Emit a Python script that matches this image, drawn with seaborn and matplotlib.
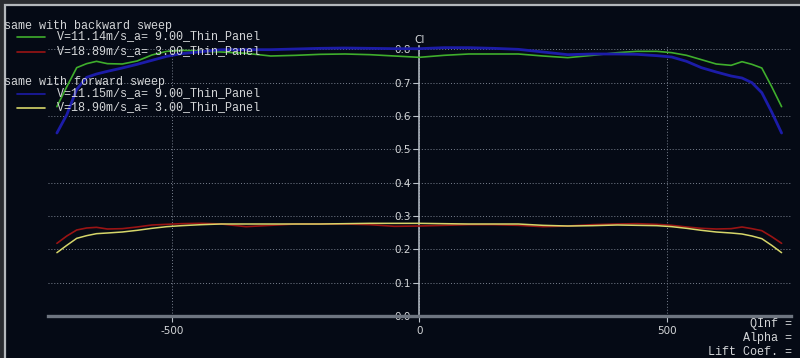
import numpy as np
import pandas as pd
import matplotlib
matplotlib.use('Agg')
import matplotlib.pyplot as plt
from matplotlib.lines import Line2D
from matplotlib.patches import Rectangle
import seaborn as sns


# spanwise stations (mm) and local lift coefficient for the four runs
span = [-732, -712, -692, -672, -652, -630, -600, -570, -540, -510, -480, -440, -400,
        -350, -300, -250, -200, -150, -100, -50, 0, 50, 100, 150, 200, 250, 300, 350,
        400, 440, 480, 510, 540, 570, 600, 630, 652, 672, 692, 712, 732]

cl_back_a9 = [0.628, 0.688, 0.745, 0.757, 0.764, 0.757, 0.756, 0.765, 0.783, 0.794, 0.797,
              0.795, 0.792, 0.788, 0.780, 0.782, 0.785, 0.786, 0.784, 0.780, 0.776, 0.782,
              0.786, 0.786, 0.786, 0.780, 0.775, 0.782, 0.790, 0.794, 0.794, 0.790, 0.782,
              0.769, 0.756, 0.752, 0.763, 0.755, 0.744, 0.688, 0.628]
cl_back_a3 = [0.218, 0.240, 0.258, 0.264, 0.266, 0.261, 0.262, 0.267, 0.273, 0.275, 0.277,
              0.278, 0.276, 0.268, 0.272, 0.276, 0.276, 0.276, 0.274, 0.269, 0.270, 0.272,
              0.274, 0.274, 0.272, 0.268, 0.270, 0.274, 0.276, 0.277, 0.275, 0.272, 0.267,
              0.263, 0.261, 0.262, 0.267, 0.262, 0.256, 0.238, 0.218]
cl_fwd_a9 = [0.549, 0.604, 0.680, 0.716, 0.726, 0.734, 0.744, 0.755, 0.767, 0.779, 0.787,
             0.793, 0.799, 0.799, 0.799, 0.801, 0.803, 0.804, 0.803, 0.802, 0.802, 0.805,
             0.805, 0.803, 0.800, 0.792, 0.784, 0.786, 0.786, 0.785, 0.781, 0.777, 0.764,
             0.745, 0.732, 0.720, 0.714, 0.700, 0.670, 0.612, 0.549]
cl_fwd_a3 = [0.190, 0.212, 0.233, 0.241, 0.247, 0.249, 0.252, 0.257, 0.263, 0.268, 0.271,
             0.274, 0.276, 0.276, 0.276, 0.276, 0.276, 0.277, 0.278, 0.278, 0.278, 0.277,
             0.276, 0.276, 0.276, 0.272, 0.270, 0.271, 0.273, 0.272, 0.271, 0.268, 0.263,
             0.257, 0.252, 0.249, 0.246, 0.240, 0.232, 0.212, 0.190]

labels = ['V=11.14m/s_a= 9.00_Thin_Panel', 'V=18.89m/s_a= 3.00_Thin_Panel',
          'V=11.15m/s_a= 9.00_Thin_Panel', 'V=18.90m/s_a= 3.00_Thin_Panel']
colors = ['#3fae2c', '#9a1414', '#1c1ca8', '#d6d66a']
widths = [1.2, 1.2, 2.0, 1.1]

bg = '#050a15'
txt = '#d4d6d8'

sns.set_theme(style='dark')

# build long table for seaborn
frames = []
for lab, vals in zip(labels, [cl_back_a9, cl_back_a3, cl_fwd_a9, cl_fwd_a3]):
    frames.append(pd.DataFrame({'span': span, 'cl': vals, 'run': lab}))
df = pd.concat(frames, ignore_index=True)

fig = plt.figure(figsize=(8, 3.58), dpi=100)
fig.patch.set_facecolor('#2a2c30')
# inner panel with light frame line on top/left (behind the axes)
fig.add_artist(Rectangle((4.5 / 800, -0.1), 1.2, (358 - 4.5) / 358 + 0.1,
                         transform=fig.transFigure, facecolor=bg,
                         edgecolor='#b4b8bc', linewidth=1.6, zorder=-10))

ax = fig.add_axes([48 / 800, 42 / 358, 743 / 800, 270 / 358])
ax.set_facecolor('none')

for lab, c, w in zip(labels, colors, widths):
    sns.lineplot(data=df[df.run == lab], x='span', y='cl', color=c, linewidth=w,
                 sort=False, legend=False, ax=ax, zorder=3)

ax.set_xlim(-750, 751)
ax.set_ylim(0, 0.81)
ax.set_xticks([-500, 0, 500])
ax.set_xticklabels(['-500', '0', '500'])
ax.set_yticks([0.0, 0.1, 0.2, 0.3, 0.4, 0.5, 0.6, 0.7, 0.8])
ax.set_yticklabels(['0.0', '0.1', '0.2', '0.3', '0.4', '0.5', '0.6', '0.7', '0.8'])
ax.set_xlabel('')
ax.set_ylabel('')

ax.grid(True, color='#7a8290', linestyle=(0, (1, 2)), linewidth=0.7)
ax.set_axisbelow(True)

for s in ['top', 'right']:
    ax.spines[s].set_visible(False)
ax.spines['left'].set_position(('data', 0))
ax.spines['left'].set_color('#b9c0c8')
ax.spines['left'].set_linewidth(1.1)
ax.spines['bottom'].set_color('#6e7580')
ax.spines['bottom'].set_linewidth(2.4)

ax.tick_params(axis='y', direction='out', length=4, width=0.8, color='#b9c0c8',
               labelcolor=txt, labelsize=7.5, pad=2, left=True)
ax.tick_params(axis='x', direction='out', length=4, width=0.8, color='#b9c0c8',
               labelcolor=txt, labelsize=7.5, pad=3, bottom=True)

ax.text(0, 0.812, 'Cl', color=txt, fontsize=7.5, ha='center', va='bottom')

# legend drawn by hand, monospace like the solver output
mono = 'Liberation Mono'
def fy(py):
    return 1 - py / 358

fig.text(4 / 800, fy(26), 'same with backward sweep', family=mono, fontsize=8.5,
         color=txt, va='center')
fig.text(4 / 800, fy(82), 'same with forward sweep', family=mono, fontsize=8.5,
         color=txt, va='center')
for lab, c, py in zip(labels, colors, [36.5, 51.5, 93.5, 107.5]):
    fig.add_artist(Line2D([17 / 800, 45 / 800], [fy(py), fy(py)], color=c, linewidth=1.2))
    fig.text(57 / 800, fy(py), lab, family=mono, fontsize=8.5, color=txt, va='center')

for s, py in zip(['QInf =', 'Alpha =', 'Lift Coef. ='], [323.5, 337.5, 352]):
    fig.text(792 / 800, fy(py), s, family=mono, fontsize=8.5, color=txt,
             ha='right', va='center')

plt.savefig('out.png', dpi=100, facecolor=fig.get_facecolor())
